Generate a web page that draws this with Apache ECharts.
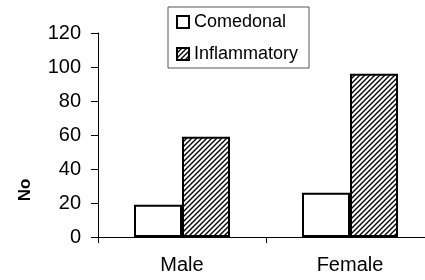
<!DOCTYPE html>
<html>
<head>
<meta charset="utf-8">
<script src="https://cdn.jsdelivr.net/npm/echarts@6/dist/echarts.min.js"></script>
<style>
html,body{margin:0;padding:0;background:#fff;}
#c{width:425px;height:280px;}
</style>
</head>
<body>
<div id="c"></div>
<script>
var categories = ['Male', 'Female'];
var comedonal = [19, 26];
var inflammatory = [59, 96];
var seriesNames = ['Comedonal', 'Inflammatory'];
var yTicks = [0, 20, 40, 60, 80, 100, 120];

var cv = document.createElement('canvas');
cv.width = 5; cv.height = 5;
var cx = cv.getContext('2d');
cx.fillStyle = '#fff';
cx.fillRect(0, 0, 5, 5);
cx.strokeStyle = '#000';
cx.lineWidth = 1.4;
cx.beginPath();
cx.moveTo(-1, 6); cx.lineTo(6, -1);
cx.moveTo(-6, 6); cx.lineTo(1, -1);
cx.moveTo(4, 6); cx.lineTo(11, -1);
cx.stroke();

var font = '"Liberation Sans", Arial, sans-serif';
var chart = echarts.init(document.getElementById('c'), null, {renderer: 'canvas'});
chart.setOption({
  animation: false,
  backgroundColor: '#fff',
  grid: {left: 98, top: 33, right: -9, bottom: 43, containLabel: false, outerBoundsMode: 'none'},
  legend: {
    orient: 'vertical',
    left: 168, top: 7,
    padding: [6, 11, 5, 8],
    itemGap: 14,
    itemWidth: 12, itemHeight: 12,
    icon: 'rect',
    borderColor: '#555', borderWidth: 1,
    textStyle: {fontFamily: font, fontSize: 18, color: '#000'},
    data: seriesNames
  },
  xAxis: {
    type: 'category',
    data: categories,
    axisLine: {lineStyle: {color: '#000', width: 1}},
    axisTick: {show: true, length: 6, lineStyle: {color: '#000'}},
    axisLabel: {fontFamily: font, fontSize: 20, color: '#000', margin: 18}
  },
  yAxis: {
    type: 'value',
    min: yTicks[0], max: yTicks[yTicks.length - 1], interval: 20,
    splitLine: {show: false},
    axisLine: {show: true, lineStyle: {color: '#000', width: 1}},
    axisTick: {show: true, length: 7, lineStyle: {color: '#000'}},
    axisLabel: {fontFamily: font, fontSize: 20, color: '#000', margin: 17}
  },
  graphic: [{
    type: 'text',
    x: 25, y: 190,
    rotation: Math.PI / 2,
    style: {
      text: 'No', fontSize: 17, fontWeight: 'bold', fontFamily: font,
      fill: '#000', align: 'center', verticalAlign: 'middle',
      textAlign: 'center', textVerticalAlign: 'middle'
    }
  }],
  series: [{
    name: seriesNames[0],
    type: 'bar',
    data: comedonal,
    barWidth: 48,
    barGap: '0%',
    itemStyle: {color: '#fff', borderColor: '#000', borderWidth: 2}
  }, {
    name: seriesNames[1],
    type: 'bar',
    data: inflammatory,
    barWidth: 48,
    barGap: '0%',
    itemStyle: {color: {image: cv, repeat: 'repeat'}, borderColor: '#000', borderWidth: 2}
  }]
});
</script>
</body>
</html>
